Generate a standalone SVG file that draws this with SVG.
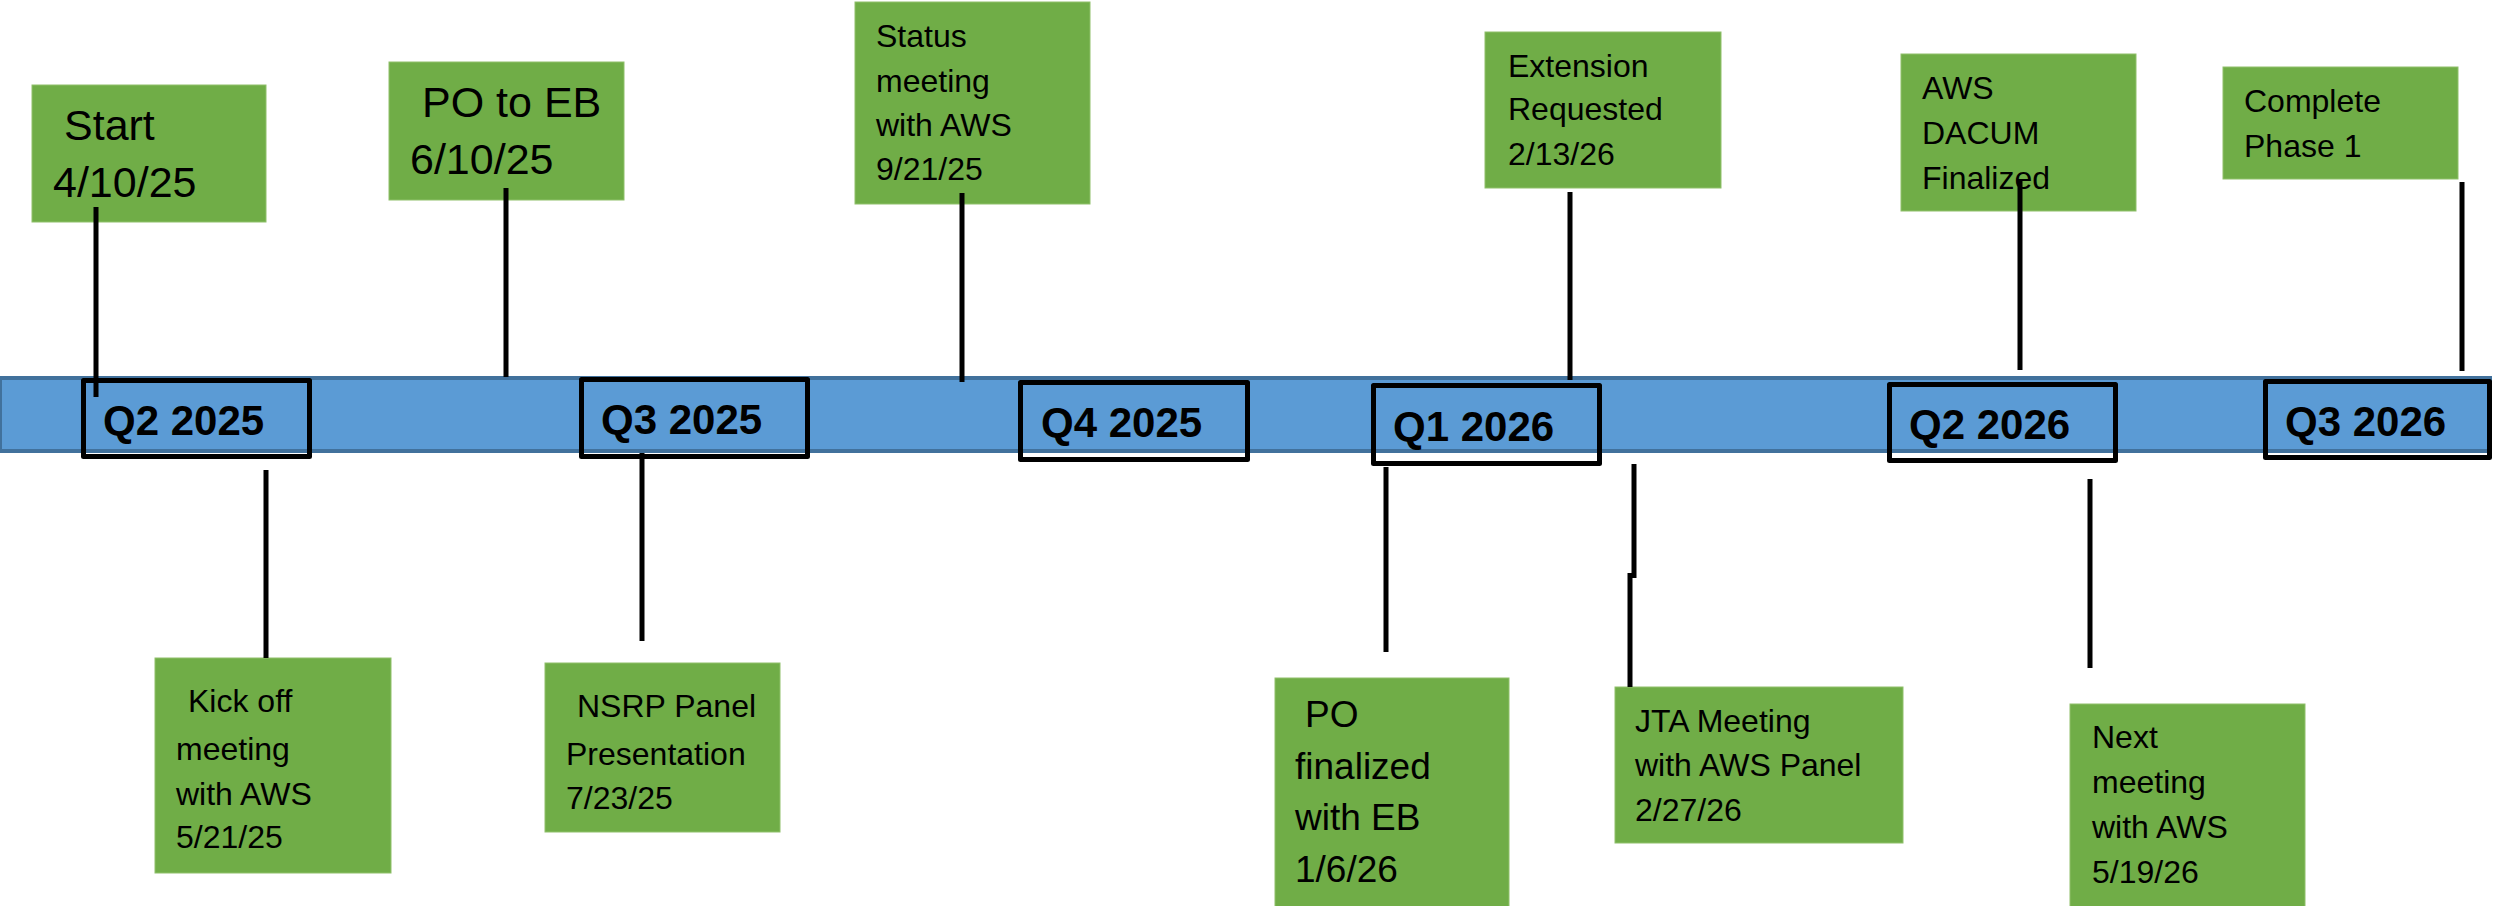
<svg xmlns="http://www.w3.org/2000/svg" width="2494" height="906" viewBox="0 0 2494 906">
<style>
.bar{fill:#5B9BD5;stroke:#41719C;stroke-width:4}
.q{fill:none;stroke:#000;stroke-width:5;stroke-linejoin:round}
.ql{font-family:"Liberation Sans",Arial,sans-serif;font-weight:bold;font-size:42px;fill:#000}
.box{fill:#70AD47;stroke:#8FC06B;stroke-width:1}
.t{font-family:"Liberation Sans",Arial,sans-serif;font-size:32px;fill:#000}
.tb{font-size:43px}
.tm{font-size:37px}
.c line{stroke:#000;stroke-width:5}
</style>
<rect width="2494" height="906" fill="#fff"/>
<g id="timeline">
<rect class="bar" x="0" y="378" width="2490" height="73"/>
</g>
<g id="q2-2025"><rect class="q" x="83.5" y="380.5" width="226" height="76"/><text class="ql" x="103" y="435">Q2 2025</text></g>
<g id="q3-2025"><rect class="q" x="581.5" y="379.5" width="226" height="77"/><text class="ql" x="601" y="434">Q3 2025</text></g>
<g id="q4-2025"><rect class="q" x="1020.5" y="382.5" width="227" height="77"/><text class="ql" x="1041" y="437">Q4 2025</text></g>
<g id="q1-2026"><rect class="q" x="1373.5" y="385.5" width="226" height="78"/><text class="ql" x="1393" y="441">Q1 2026</text></g>
<g id="q2-2026"><rect class="q" x="1889.5" y="384.5" width="226" height="76"/><text class="ql" x="1909" y="439">Q2 2026</text></g>
<g id="q3-2026"><rect class="q" x="2265.5" y="381.5" width="224" height="76"/><text class="ql" x="2285" y="436">Q3 2026</text></g>

<g id="start"><rect class="box" x="32" y="85" width="234" height="137"/>
<text class="t tb"><tspan x="64" y="140">Start</tspan><tspan x="53" y="197">4/10/25</tspan></text></g>
<g id="po-to-eb"><rect class="box" x="389" y="62" width="235" height="138"/>
<text class="t tb"><tspan x="422" y="117">PO to EB</tspan><tspan x="410" y="174">6/10/25</tspan></text></g>
<g id="status"><rect class="box" x="855" y="2" width="235" height="202"/>
<text class="t"><tspan x="876" y="47">Status</tspan><tspan x="876" y="92">meeting</tspan><tspan x="876" y="136">with AWS</tspan><tspan x="876" y="180">9/21/25</tspan></text></g>
<g id="extension"><rect class="box" x="1485" y="32" width="236" height="156"/>
<text class="t"><tspan x="1508" y="77">Extension</tspan><tspan x="1508" y="120">Requested</tspan><tspan x="1508" y="165">2/13/26</tspan></text></g>
<g id="dacum"><rect class="box" x="1901" y="54" width="235" height="157"/>
<text class="t"><tspan x="1922" y="99">AWS</tspan><tspan x="1922" y="144">DACUM</tspan><tspan x="1922" y="189">Finalized</tspan></text></g>
<g id="phase1"><rect class="box" x="2223" y="67" width="235" height="112"/>
<text class="t"><tspan x="2244" y="112">Complete</tspan><tspan x="2244" y="157">Phase 1</tspan></text></g>

<g id="kickoff"><rect class="box" x="155" y="658" width="236" height="215"/>
<text class="t"><tspan x="188" y="712">Kick off</tspan><tspan x="176" y="760">meeting</tspan><tspan x="176" y="805">with AWS</tspan><tspan x="176" y="848">5/21/25</tspan></text></g>
<g id="nsrp"><rect class="box" x="545" y="663" width="235" height="169"/>
<text class="t"><tspan x="577" y="717">NSRP Panel</tspan><tspan x="566" y="765">Presentation</tspan><tspan x="566" y="809">7/23/25</tspan></text></g>
<g id="po-final"><rect class="box" x="1275" y="678" width="234" height="230"/>
<text class="t tm"><tspan x="1305" y="727">PO</tspan><tspan x="1295" y="779">finalized</tspan><tspan x="1295" y="830">with EB</tspan><tspan x="1295" y="882">1/6/26</tspan></text></g>
<g id="jta"><rect class="box" x="1615" y="687" width="288" height="156"/>
<text class="t"><tspan x="1635" y="732">JTA Meeting</tspan><tspan x="1635" y="776">with AWS Panel</tspan><tspan x="1635" y="821">2/27/26</tspan></text></g>
<g id="next"><rect class="box" x="2070" y="704" width="235" height="204"/>
<text class="t"><tspan x="2092" y="748">Next</tspan><tspan x="2092" y="793">meeting</tspan><tspan x="2092" y="838">with AWS</tspan><tspan x="2092" y="883">5/19/26</tspan></text></g>

<g id="connectors" class="c">
<line x1="96" y1="207" x2="96" y2="397"/>
<line x1="506" y1="188" x2="506" y2="377"/>
<line x1="962" y1="193" x2="962" y2="382"/>
<line x1="1570" y1="192" x2="1570" y2="380"/>
<line x1="2020" y1="180" x2="2020" y2="370"/>
<line x1="2462" y1="182" x2="2462" y2="371"/>
<line x1="266" y1="470" x2="266" y2="658"/>
<line x1="642" y1="453" x2="642" y2="641"/>
<line x1="1386" y1="467" x2="1386" y2="652"/>
<line x1="1634" y1="464" x2="1634" y2="578"/>
<line x1="1630" y1="573" x2="1630" y2="687"/>
<line x1="2090" y1="479" x2="2090" y2="668"/>
</g>
</svg>
